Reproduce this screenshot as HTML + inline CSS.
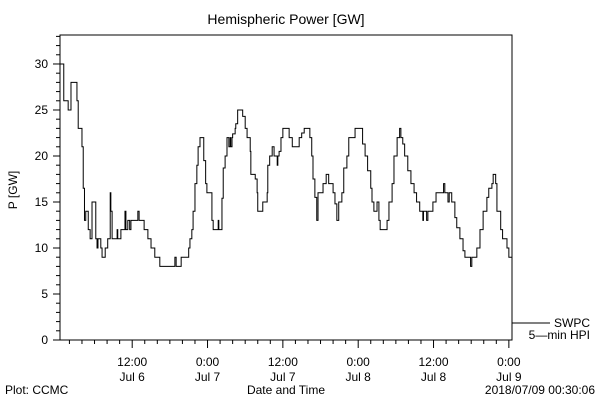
<!DOCTYPE html>
<html><head><meta charset="utf-8"><style>
body{margin:0;background:#fff}
svg{display:block;font-family:"Liberation Sans",sans-serif}
</style></head><body>
<svg id="chart" width="600" height="400" viewBox="0 0 600 400">
<rect width="600" height="400" fill="#fff"/>
<text x="286" y="24" font-size="14" text-anchor="middle">Hemispheric Power [GW]</text>
<text x="0" y="0" font-size="12" text-anchor="middle" transform="translate(17,190) rotate(-90)">P [GW]</text>
<rect x="60" y="35" width="452" height="305" fill="none" stroke="#000" stroke-width="1"/>
<g id="yticks"></g>
<g id="xticks"></g>
<path id="line" fill="none" stroke="#000" stroke-width="1"/>
<line x1="512" y1="323" x2="550" y2="323" stroke="#000"/>
<text x="590" y="327" font-size="12" text-anchor="end">SWPC</text>
<text x="590" y="339" font-size="12" text-anchor="end">5—min HPI</text>
<text x="286" y="394" font-size="12" text-anchor="middle">Date and Time</text>
<text x="5" y="394" font-size="12">Plot: CCMC</text>
<text x="595" y="394" font-size="12" text-anchor="end">2018/07/09 00:30:06</text>
</svg>
<script>
const hours=[0.16,0.6,1.3,1.75,2.7,2.9,3.5,3.7,3.9,4.1,4.5,4.8,5.1,5.7,5.9,6.05,6.5,6.7,7.2,7.6,8.0,8.1,8.3,9.1,9.2,9.7,10.35,10.5,10.8,11.1,11.3,12.4,12.6,13.4,14.0,14.5,15.1,15.9,18.3,18.5,19.3,20.5,20.7,21.0,21.2,21.5,21.8,22.0,22.3,22.9,23.2,23.4,24.2,24.4,25.2,25.3,25.8,26.0,26.3,26.6,26.9,27.1,27.2,27.4,27.5,27.9,28.0,28.3,29.1,29.5,29.8,30.3,30.4,31.1,31.4,31.5,32.3,33.0,33.1,33.4,33.8,34.1,34.6,34.7,34.9,35.2,35.5,36.5,37.0,38.1,38.5,38.9,39.8,40.1,40.3,40.6,40.9,41.1,41.9,42.4,42.8,43.5,43.8,44.1,44.4,44.9,45.2,45.7,46.0,47.0,47.9,48.2,48.6,49.0,49.5,49.7,50.0,50.5,50.8,51.0,52.1,52.4,52.9,53.2,53.7,54.1,54.3,54.6,54.9,55.4,55.9,56.4,56.8,57.3,57.8,57.9,58.4,58.6,59.4,59.9,61.1,61.3,61.6,61.8,62.0,62.4,62.9,63.2,63.7,64.2,64.5,65.4,65.6,66.4,66.9,67.4,68.0,68.3,68.8,69.0,69.4,69.6,70.2,70.5,71.2,71.5];
const power=[30,26,25,28,26,23,21,16.5,13,14,12,11,15,11,10,11,10,9,10,11,16,14,11,12,11,12,14,12,13,12,13,14,13,12,11,10,9,8,9,8,9,10,11,12,14,17,19,21,22,19.5,17,16,13,12,13,12,15.4,18.7,20,22,21,22,21,22,22.4,23,23.5,25,24.3,23,22,20.5,18,17.5,16,14,15,16,19,20,21,20,19,20,20.5,22,23,22,21,22,22.5,23,22,20,17.5,15.5,13,16,17,18,17,16,14.8,13,15,16,18.7,20,22,23,23,21.3,20,18.4,16.5,15,14,15,13,12,13,15,17,20,22,23,22,21.3,20,18.4,17,16,15,14,13,14,13,14,15,16,17,16,16,15,16,15,13.3,12.2,11,9.7,9,8,9,10,12,14,15.5,16.5,17,18,17,14,12,11,10,9];
const yTicks=[0,5,10,15,20,25,30];
const xTickHours=[11.5,23.5,35.5,47.5,59.5,71.5];
const xTickTimes=["12:00","0:00","12:00","0:00","12:00","0:00"];
const xTickDates=["Jul 6","Jul 7","Jul 7","Jul 8","Jul 8","Jul 9"];
const NS="http://www.w3.org/2000/svg";
const L=60,R=512,B=340,T=35,YMAX=33.15,HMAX=72;
const xs=h=>L+(h/HMAX)*(R-L);
const ys=v=>B-(v/YMAX)*(B-T);
function mk(tag,attrs,parent){const e=document.createElementNS(NS,tag);for(const k in attrs)e.setAttribute(k,attrs[k]);parent.appendChild(e);return e;}
const yg=document.getElementById('yticks');
for(let v=0;v<=33;v++){const maj=v%5===0;const t=mk('line',{x1:L-(maj?7:4),x2:L,y1:ys(v),y2:ys(v),stroke:'#000'},yg);

}
yTicks.forEach(v=>{const t=mk('text',{x:L-12,y:ys(v)+4,'font-size':12,'text-anchor':'end'},yg);t.textContent=v;

});
const xg=document.getElementById('xticks');
for(let h=1.5;h<HMAX;h+=2){const maj=xTickHours.some(m=>Math.abs(m-h)<0.01);const t=mk('line',{x1:xs(h),x2:xs(h),y1:B,y2:B+(maj?8:4),stroke:'#000'},xg);

}
xTickHours.forEach((h,i)=>{const a=mk('text',{x:xs(h),y:366,'font-size':12,'text-anchor':'middle'},xg);a.textContent=xTickTimes[i];


const b=mk('text',{x:xs(h),y:381,'font-size':12,'text-anchor':'middle'},xg);b.textContent=xTickDates[i];

});
let d='M'+xs(0)+','+ys(power[0]);
for(let i=0;i<hours.length;i++){d+=' H'+xs(hours[i])+' V'+ys(power[i]);}
d+=' H'+xs(HMAX);
document.getElementById('line').setAttribute('d',d);
</script>
</body></html>
